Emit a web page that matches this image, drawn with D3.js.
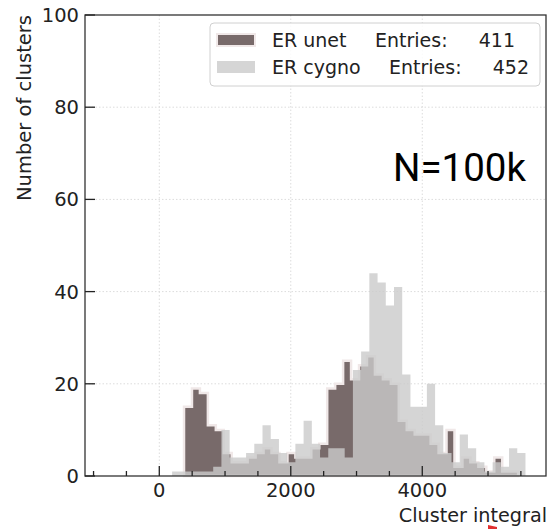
<!DOCTYPE html>
<html><head><meta charset="utf-8">
<script src="https://cdn.jsdelivr.net/npm/d3@7"></script>
<style>body{margin:0;background:#fff}svg{display:block}</style>
</head><body>
<svg id="c" width="550" height="529"></svg>
<script>
// ---- data ----
const unetStart = 376, unetWidth = 121;
const unetCounts = [15,19,18,11,10,5,3,3,4,5,6,5,3,5,4,4,6,7,19,20,25,21,24,26,22,21,20,12,10,9,9,7,5,10,2,4,3,2,1,4,1,1];
const cygnoStart = 195, cygnoWidth = 125;
const cygnoCounts = [1,1,1,1,1,2,10,4,4,5,7,11,8,5,3,7,12,7,4,6,6,4,23,27,44,42,37,41,22,15,15,20,11,5,3,9,6,3,1,3,2,6,5];
const seriesNames = ["ER unet", "ER cygno"];
const entries = [411, 452];
const xMajorTicks = [0, 2000, 4000];
const xMinorTicks = [-1000,-500,500,1000,1500,2500,3000,3500,4500,5000,5500];
const yTicks = [0,20,40,60,80,100];

// ---- layout ----
const L = 85, R = 546, T = 15, B = 476;
const svg = d3.select("#c");
const x = d3.scaleLinear().domain([-1130, 5882]).range([L, R]);
const y = d3.scaleLinear().domain([0, 100]).range([B, T]);
const font = "DejaVu Sans, sans-serif";

// grid
const grid = svg.append("g").attr("stroke", "#dcdcdc").attr("stroke-width", 1).attr("stroke-dasharray", "1.5,2");
yTicks.filter(v => v > 0 && v < 100).forEach(v => grid.append("line").attr("x1", L).attr("x2", R).attr("y1", y(v)).attr("y2", y(v)));
xMajorTicks.forEach(v => grid.append("line").attr("x1", x(v)).attr("x2", x(v)).attr("y1", T).attr("y2", B));

function stepPath(start, w, counts) {
  const p = d3.path();
  p.moveTo(x(start), y(0));
  counts.forEach((c, i) => {
    p.lineTo(x(start + i * w), y(c));
    p.lineTo(x(start + (i + 1) * w), y(c));
  });
  p.lineTo(x(start + counts.length * w), y(0));
  p.closePath();
  return p.toString();
}

// histograms
svg.append("path").attr("d", stepPath(unetStart, unetWidth, unetCounts))
  .attr("fill", "#786a6a").attr("stroke", "#f0e8e8").attr("stroke-width", 2.5);
svg.append("path").attr("d", stepPath(cygnoStart, cygnoWidth, cygnoCounts))
  .attr("fill", "rgb(202,202,202)").attr("fill-opacity", 0.8);

// frame
svg.append("rect").attr("x", L).attr("y", T).attr("width", R - L).attr("height", B - T)
  .attr("fill", "none").attr("stroke", "#333").attr("stroke-width", 1.3);

// ticks (inward)
const tk = svg.append("g").attr("stroke", "#222").attr("stroke-width", 1.3);
xMajorTicks.forEach(v => tk.append("line").attr("x1", x(v)).attr("x2", x(v)).attr("y1", B).attr("y2", B - 10));
xMinorTicks.forEach(v => tk.append("line").attr("x1", x(v)).attr("x2", x(v)).attr("y1", B).attr("y2", B - 5));
yTicks.forEach(v => tk.append("line").attr("x1", L).attr("x2", L + 10).attr("y1", y(v)).attr("y2", y(v)));

// tick labels
xMajorTicks.forEach(v => svg.append("text").attr("x", x(v)).attr("y", B + 21).attr("text-anchor", "middle")
  .attr("font-family", font).attr("font-size", 19.5).attr("fill", "#222").text(v));
yTicks.forEach(v => svg.append("text").attr("x", L - 6).attr("y", y(v) + 7).attr("text-anchor", "end")
  .attr("font-family", font).attr("font-size", 19.5).attr("fill", "#222").text(v));

// axis labels
svg.append("text").attr("transform", `translate(31,${T}) rotate(-90)`).attr("text-anchor", "end")
  .attr("font-family", font).attr("font-size", 19.5).attr("fill", "#222").text("Number of clusters");
svg.append("text").attr("x", 547).attr("y", 522).attr("text-anchor", "end")
  .attr("font-family", font).attr("font-size", 19.2).attr("fill", "#222").text("Cluster integral");

// annotation
svg.append("text").attr("x", 393).attr("y", 181).attr("font-family", "Roboto, sans-serif")
  .attr("font-size", 38.5).attr("fill", "#000").text("N=100k");

// legend
const lg = svg.append("g");
lg.append("rect").attr("x", 210).attr("y", 23).attr("width", 330).attr("height", 63).attr("rx", 4)
  .attr("fill", "#fff").attr("fill-opacity", 0.85).attr("stroke", "#d0d0d0");
const rows = [
  {fill: "#786a6a", stroke: "#f0e8e8", op: 1, sy: 34, ty: 47, ex: 375, nx: 515},
  {fill: "rgb(202,202,202)", stroke: "none", op: 0.8, sy: 61, ty: 74, ex: 389, nx: 529}
];
rows.forEach((r, i) => {
  lg.append("rect").attr("x", 217).attr("y", r.sy).attr("width", 38).attr("height", 12)
    .attr("fill", r.fill).attr("fill-opacity", r.op).attr("stroke", r.stroke).attr("stroke-width", 2);
  lg.append("text").attr("x", 272).attr("y", r.ty).attr("font-family", font).attr("font-size", 19).attr("fill", "#222").text(seriesNames[i]);
  lg.append("text").attr("x", r.ex).attr("y", r.ty).attr("font-family", font).attr("font-size", 19).attr("fill", "#222").text("Entries:");
  lg.append("text").attr("x", r.nx).attr("y", r.ty).attr("text-anchor", "end").attr("font-family", font).attr("font-size", 19).attr("fill", "#222").text(entries[i]);
});

// small red mark near the x label
svg.append("path").attr("d", "M488,525 L497,527 L497,529 L488,529 Z").attr("fill", "#e03030");
</script>
</body></html>
